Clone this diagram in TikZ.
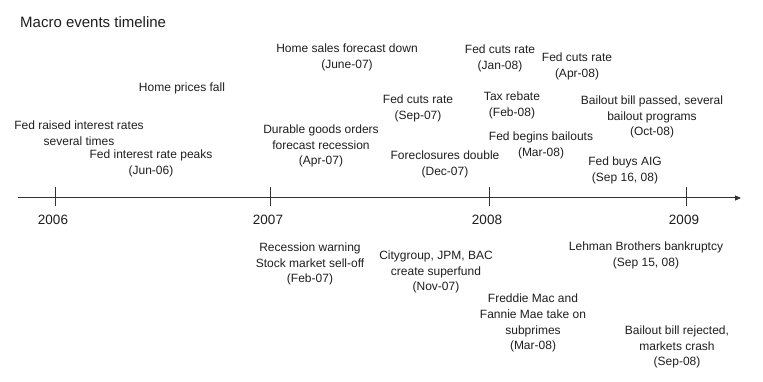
\documentclass[tikz,border=0pt]{standalone}
\usepackage{fontspec}
\setmainfont{Liberation Sans}
\usetikzlibrary{arrows.meta, positioning}
\definecolor{textdark}{HTML}{1E1E1E}
\definecolor{axisgray}{HTML}{333333}

\begin{document}
\begin{tikzpicture}[
    x=1pt, y=-1pt,
    % ── Node styles ──────────────────────────────────────────────────────
    event/.style={
        align=center, inner sep=0pt, text=textdark,
        font=\fontsize{12}{15.8}\selectfont
    },
    yearlabel/.style={
        inner sep=0pt, text=textdark, xshift=-2pt,
        font=\fontsize{13.5}{16}\selectfont
    },
    titlenode/.style={
        anchor=west, inner sep=0pt, text=textdark,
        font=\fontsize{15}{18}\selectfont
    },
    % ── Line styles ──────────────────────────────────────────────────────
    axisline/.style={
        -{Triangle[length=6pt, width=5pt]},
        line width=1pt, color=axisgray
    },
    tickline/.style={line width=0.9pt, color=axisgray}
]
\useasboundingbox (0,0) rectangle (763,382);

% Title
\node[titlenode] (title) at (20,22) {Macro events timeline};

% ═══════════════════════════════════════════════════════════════════════════
% Time axis with yearly ticks
% ═══════════════════════════════════════════════════════════════════════════
\coordinate (axisstart) at (18,198);
\coordinate (axisend) at (741,198);
\draw[axisline] (axisstart) -- (axisend);

\foreach \yr/\xpos in {2006/55, 2007/270, 2008/489, 2009/686} {
    \coordinate (tick\yr) at (\xpos,198);
    \draw[tickline] ([yshift=11pt]tick\yr) -- ([yshift=-8pt]tick\yr);
    \node[yearlabel, below=17pt of tick\yr] (year\yr) {\yr};
}

% ═══════════════════════════════════════════════════════════════════════════
% Events above the axis
% ═══════════════════════════════════════════════════════════════════════════
\node[event] (raised) at (79,133) {Fed raised interest rates\\several times};
\node[event] (peaks) at (151,163) {Fed interest rate peaks\\(Jun-06)};
\node[event] (prices) at (182,88) {Home prices fall};
\node[event] (sales) at (347,57) {Home sales forecast down\\(June-07)};
\node[event] (durable) at (321,146)
    {Durable goods orders\\forecast recession\\(Apr-07)};
\node[event] (cutsep) at (418,108) {Fed cuts rate\\(Sep-07)};
\node[event] (foreclose) at (445,164) {Foreclosures double\\(Dec-07)};
\node[event] (cutjan) at (500,58) {Fed cuts rate\\(Jan-08)};
\node[event] (rebate) at (512,105) {Tax rebate\\(Feb-08)};
\node[event] (bailouts) at (541,145) {Fed begins bailouts\\(Mar-08)};
\node[event] (cutapr) at (577,66) {Fed cuts rate\\(Apr-08)};
\node[event] (passed) at (652,117)
    {Bailout bill passed, several\\bailout programs\\(Oct-08)};
\node[event] (aig) at (625,170) {Fed buys AIG\\(Sep 16, 08)};

% ═══════════════════════════════════════════════════════════════════════════
% Events below the axis
% ═══════════════════════════════════════════════════════════════════════════
\node[event] (recession) at (310,264)
    {Recession warning\\Stock market sell-off\\(Feb-07)};
\node[event] (superfund) at (436,272)
    {Citygroup, JPM, BAC\\create superfund\\(Nov-07)};
\node[event] (freddie) at (533,323)
    {Freddie Mac and\\Fannie Mae take on\\subprimes\\(Mar-08)};
\node[event] (lehman) at (646,255) {Lehman Brothers bankruptcy\\(Sep 15, 08)};
\node[event] (rejected) at (677,347)
    {Bailout bill rejected,\\markets crash\\(Sep-08)};

\end{tikzpicture}
\end{document}
